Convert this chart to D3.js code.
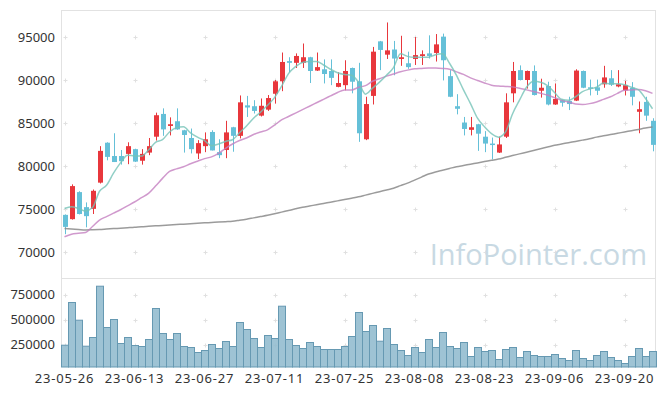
<!DOCTYPE html>
<html>
<head>
<meta charset="utf-8">
<script src="https://cdn.jsdelivr.net/npm/d3@7"></script>
<style>
  body { margin: 0; background: #fff; }
  #chart { width: 665px; height: 396px; }
  text { font-family: "Noto Sans", "DejaVu Sans", sans-serif; }
</style>
</head>
<body>
<div id="chart"></div>
<script>
// trading days (yy-mm-dd)
const dates = [
  "23-05-26","23-05-30","23-05-31","23-06-01","23-06-02","23-06-05","23-06-07","23-06-08","23-06-09","23-06-12",
  "23-06-13","23-06-14","23-06-15","23-06-16","23-06-19","23-06-20","23-06-21","23-06-22","23-06-23","23-06-26",
  "23-06-27","23-06-28","23-06-29","23-06-30","23-07-03","23-07-04","23-07-05","23-07-06","23-07-07","23-07-10",
  "23-07-11","23-07-12","23-07-13","23-07-14","23-07-17","23-07-18","23-07-19","23-07-20","23-07-21","23-07-24",
  "23-07-25","23-07-26","23-07-27","23-07-28","23-07-31","23-08-01","23-08-02","23-08-03","23-08-04","23-08-07",
  "23-08-08","23-08-09","23-08-10","23-08-11","23-08-14","23-08-16","23-08-17","23-08-18","23-08-21","23-08-22",
  "23-08-23","23-08-24","23-08-25","23-08-28","23-08-29","23-08-30","23-08-31","23-09-01","23-09-04","23-09-05",
  "23-09-06","23-09-07","23-09-08","23-09-11","23-09-12","23-09-13","23-09-14","23-09-15","23-09-18","23-09-19",
  "23-09-20","23-09-21","23-09-22","23-09-25","23-09-26"
];

const opens = [
  74350,73850,77000,75250,75050,78100,82750,81200,81200,81450,
  82000,80650,81600,83450,86100,84700,85250,84200,83300,81500,
  82350,84000,81650,81900,84550,83550,87100,87000,85900,86600,
  88450,89900,92250,92050,92050,92700,91150,91300,91100,89250,
  89450,91450,89900,83150,88200,94550,93000,93600,92500,92000,
  92500,92850,93150,93200,95100,90500,87000,85100,84250,84900,
  83450,82650,81600,83450,88500,91200,90050,91100,88800,89350,
  87200,87700,87600,87650,91100,89200,89200,89550,90250,89300,
  88850,89150,86350,87500,85300
];
const highs = [
  74400,77900,77100,75800,77300,82350,82800,83850,81900,82800,
  82050,82000,83300,86250,86750,85700,86750,84250,84400,83050,
  83950,84200,83150,85300,84600,88250,88200,87700,87900,88300,
  90050,93250,92700,93150,94300,92750,93250,92450,92450,90950,
  92350,91500,92050,88100,93900,94600,96750,94600,95200,93350,
  95050,93500,95250,95400,95450,91200,88400,85750,85750,84950,
  84100,83350,83450,88500,92150,91750,91150,91750,90200,89850,
  89650,87750,88100,91300,91150,90100,90100,91700,91200,91200,
  89950,89800,87550,88100,85600
];
const lows = [
  72100,73800,74400,72900,74450,78000,80700,80500,80200,80250,
  80500,80200,81300,83000,83550,83600,84250,81600,81500,80850,
  81650,81850,80950,80950,81700,83250,85750,86150,85800,86450,
  87300,88750,90950,91450,91450,89700,91100,89650,89450,89200,
  88850,88500,82850,83050,87200,91200,92500,90600,91700,91350,
  91800,91800,92550,92200,90000,88050,86050,83600,83600,81800,
  81650,80800,81550,83300,87450,90000,89050,88250,88000,87100,
  87150,86950,86550,87600,89100,88250,88300,89150,89350,89200,
  88250,87100,83850,85300,81750
];
const closes = [
  72950,77700,74450,74200,77150,81800,81100,80500,80600,82350,
  80550,81450,82350,85950,84300,84900,84300,83650,82000,82700,
  83150,81850,81300,83950,83550,87450,86850,86450,87050,87950,
  89900,92150,92050,92850,92700,91100,91550,90750,90300,89700,
  91100,89850,83850,87250,93350,93550,93500,92550,92700,91550,
  92950,93050,92850,94200,92350,88100,86700,84350,84550,83800,
  82650,82600,82550,87450,91100,90050,91100,88300,89150,87200,
  87850,87400,87250,91150,89150,89100,88800,90350,89500,89550,
  89450,88100,86650,85900,82500
];
const volumes = [
  243000,670000,493000,233000,320000,833000,420000,500000,260000,320000,
  240000,230000,300000,610000,360000,300000,360000,230000,220000,170000,
  190000,250000,210000,280000,230000,470000,400000,310000,220000,340000,
  310000,633000,300000,240000,210000,270000,230000,200000,200000,200000,
  230000,330000,570000,380000,440000,283000,410000,250000,190000,140000,
  220000,170000,300000,220000,370000,230000,210000,270000,130000,220000,
  180000,190000,100000,200000,220000,120000,180000,140000,130000,130000,
  150000,110000,90000,190000,110000,90000,140000,180000,120000,90000,
  60000,130000,210000,130000,180000
];

// moving averages
const ma5 = [
  75100,75300,75100,74800,75200,77100,77800,79200,80400,81300,
  81200,81200,81900,82800,83100,84000,84500,84600,83900,83400,
  83000,82400,82600,82900,83100,83900,84700,85600,86300,87100,
  88000,89300,90800,91600,92100,92200,92200,91800,91300,90900,
  90700,90600,89800,88400,89100,89800,90600,91500,93100,92800,
  92700,92700,92700,93000,93100,92000,90600,88900,87300,85600,
  84600,83800,83400,84000,86100,87700,89200,89900,89800,89400,
  88600,87800,87700,88100,88700,89000,89200,89700,89600,89600,
  89500,89200,88900,87900,86700
];
const ma20 = [
  71800,72100,72200,72300,73000,73750,74150,74550,74950,75400,
  75850,76350,76850,77700,78600,79400,79700,79950,80300,80600,
  80900,81100,81500,82100,82600,83000,83300,83700,84000,84250,
  84800,85400,85800,86200,86600,87000,87400,87800,88200,88600,
  88900,88900,89200,89400,89900,90200,90500,90750,91000,91200,
  91350,91400,91450,91450,91400,91300,91000,90700,90300,90000,
  89700,89450,89350,89300,89250,89100,88900,88700,88500,88300,
  88000,87700,87500,87250,87200,87300,87500,87800,88100,88500,
  88850,88900,88950,88800,88500
];
const ma120 = [
  72750,72700,72650,72600,72620,72650,72700,72750,72800,72850,
  72900,72970,73020,73070,73120,73170,73220,73270,73320,73370,
  73420,73470,73520,73560,73600,73720,73850,74000,74150,74300,
  74480,74670,74860,75050,75230,75380,75530,75680,75830,75980,
  76130,76290,76450,76650,76850,77050,77250,77450,77750,78050,
  78400,78750,79100,79350,79550,79750,79950,80100,80250,80400,
  80550,80700,80850,81050,81250,81450,81650,81850,82050,82250,
  82450,82600,82750,82900,83050,83200,83400,83550,83700,83850,
  84000,84150,84300,84450,84570
];

const priceTicks = [70000, 75000, 80000, 85000, 90000, 95000];
const volumeTicks = [250000, 500000, 750000];

// layout
const W = 665, H = 396;
const left = 61, right = 656;
const priceTop = 10, priceBottom = 278;
const volTop = 278, volBottom = 367;

const UP = "#e8373c", DOWN = "#65c0d8";

const svg = d3.select("#chart").append("svg")
  .attr("width", W)
  .attr("height", H);

const x = d3.scaleBand().domain(dates).range([left, right]).padding(0);
const cx = d => x(d) + x.bandwidth() / 2;
const y = d3.scaleLinear().domain([67000, 98200]).range([priceBottom, priceTop]);
const yv = d3.scaleLinear().domain([25000, 910000]).range([volBottom, volTop + 0.5]);

const xTicks = dates.filter((d, i) => i % 10 === 0);

// frames
const frame = svg.append("g").attr("stroke", "#e2e2e2").attr("fill", "none");
frame.append("rect").attr("x", left + 0.5).attr("y", priceTop + 0.5)
  .attr("width", right - left - 1).attr("height", priceBottom - priceTop);
frame.append("line").attr("x1", left + 0.5).attr("x2", left + 0.5).attr("y1", volTop).attr("y2", volBottom);
frame.append("line").attr("x1", right - 0.5).attr("x2", right - 0.5).attr("y1", volTop).attr("y2", volBottom);

// grid crosses at tick intersections
function crosses(yScale, ticks) {
  const g = svg.append("g").attr("stroke", "#e0e0e0").attr("stroke-width", 1);
  xTicks.forEach(d => {
    ticks.forEach(t => {
      const px = Math.round(cx(d)) + 0.5, py = Math.round(yScale(t)) + 0.5;
      g.append("line").attr("x1", px - 2).attr("x2", px + 2).attr("y1", py).attr("y2", py);
      g.append("line").attr("x1", px).attr("x2", px).attr("y1", py - 2).attr("y2", py + 2);
    });
  });
}
crosses(y, priceTicks);
crosses(yv, volumeTicks);

// watermark
svg.append("text")
  .attr("x", 647).attr("y", 265)
  .attr("text-anchor", "end")
  .style("font-family", "'Open Sans', sans-serif")
  .style("font-size", "29px")
  .attr("fill", "#c8d9e3")
  .text("InfoPointer.com");

// y axis labels
svg.append("g").selectAll("text").data(priceTicks).join("text")
  .attr("x", 55).attr("y", d => y(d)).attr("dy", "0.35em")
  .attr("text-anchor", "end")
  .attr("fill", "#333").style("font-size", "13px")
  .text(d => d);
svg.append("g").selectAll("text").data(volumeTicks).join("text")
  .attr("x", 55).attr("y", d => yv(d)).attr("dy", "0.35em")
  .attr("text-anchor", "end")
  .attr("fill", "#333").style("font-size", "13px")
  .text(d => d);

// x axis labels
svg.append("g").selectAll("text").data(xTicks).join("text")
  .attr("x", d => cx(d)).attr("y", 378).attr("dy", "0.35em")
  .attr("text-anchor", "middle")
  .attr("fill", "#333").style("font-size", "13px")
  .style("letter-spacing", "0.8px")
  .text(d => d);

// volume bars
svg.append("g").selectAll("rect").data(dates).join("rect")
  .attr("x", d => x(d) + 0.5)
  .attr("width", x.bandwidth())
  .attr("y", (d, i) => yv(volumes[i]))
  .attr("height", (d, i) => volBottom - yv(volumes[i]))
  .attr("fill", "#93bccf")
  .attr("fill-opacity", 0.9)
  .attr("stroke", "#6699b2")
  .attr("stroke-width", 1);

// candles
const candles = svg.append("g").selectAll("g").data(dates).join("g");
candles.append("line")
  .attr("x1", d => Math.round(cx(d)) + 0.5).attr("x2", d => Math.round(cx(d)) + 0.5)
  .attr("y1", (d, i) => y(highs[i])).attr("y2", (d, i) => y(lows[i]))
  .attr("stroke", (d, i) => closes[i] >= opens[i] ? UP : DOWN)
  .attr("stroke-width", 1);
candles.append("rect")
  .attr("x", d => Math.round(cx(d)) - 2)
  .attr("width", 5)
  .attr("y", (d, i) => y(Math.max(opens[i], closes[i])))
  .attr("height", (d, i) => Math.max(1.5, Math.abs(y(opens[i]) - y(closes[i]))))
  .attr("fill", (d, i) => closes[i] >= opens[i] ? UP : DOWN);

// moving average lines
function maLine(values, color, width, opacity) {
  const line = d3.line()
    .x((v, i) => cx(dates[i]))
    .y(v => y(v))
    .curve(d3.curveMonotoneX);
  svg.append("path")
    .datum(values)
    .attr("d", line)
    .attr("fill", "none")
    .attr("stroke", color)
    .attr("stroke-width", width)
    .attr("stroke-opacity", opacity);
}
maLine(ma120, "#8a8a8a", 1.5, 0.85);
maLine(ma20, "#c47fc0", 1.5, 0.8);
maLine(ma5, "#76c3b8", 1.5, 0.8);
</script>
</body>
</html>
